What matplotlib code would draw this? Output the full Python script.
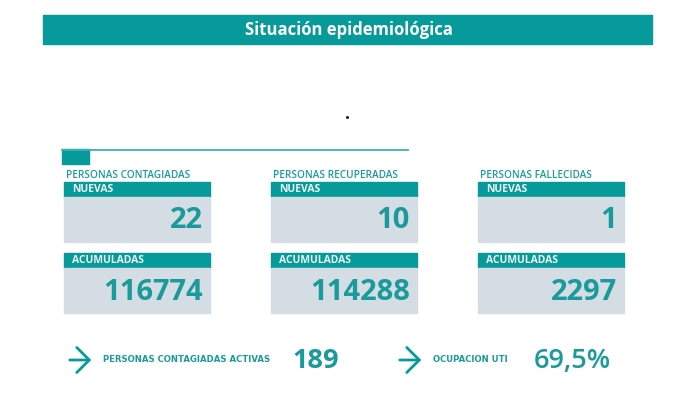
import matplotlib.pyplot as plt
from matplotlib.patches import Rectangle, FancyArrowPatch

# data
title = "Situación epidemiológica"
categorias = ["PERSONAS CONTAGIADAS", "PERSONAS RECUPERADAS", "PERSONAS FALLECIDAS"]
nuevas = [22, 10, 1]
acumuladas = [116774, 114288, 2297]
indicadores = ["PERSONAS CONTAGIADAS ACTIVAS", "OCUPACION UTI"]
indicador_valores = ["189", "69,5%"]

TEAL = "#079a9a"
TEAL_TXT = "#1a9a9a"
GRAY = "#d4dde4"
HEAD_TXT = "#eef3f3"

fig = plt.figure(figsize=(6.86, 4.01), dpi=100)
ax = fig.add_axes([0, 0, 1, 1])
ax.set_xlim(0, 686)
ax.set_ylim(401, 0)
ax.axis("off")

# title bar
ax.add_patch(Rectangle((43, 15), 609, 29, color=TEAL))
ax.text(349, 30, title, color="white", fontsize=12, fontweight="bold",
        family="Open Sans", ha="center", va="center")

ax.plot([347], [117], marker="o", color="#222222", markersize=1.2)

# separator line and square
ax.plot([62, 408], [149.5, 149.5], color="#3fb0b1", lw=1.3)
ax.add_patch(Rectangle((62, 149), 27, 15, color=TEAL))

col_x = [64, 271, 478]
box_w = 146
for i, cat in enumerate(categorias):
    x = col_x[i]
    ax.text(x + 2, 175, cat, color=TEAL_TXT, fontsize=7.2, family="Open Sans",
            fontweight="semibold", ha="left", va="center")
    for (y0, lab, val) in [(182, "NUEVAS", nuevas[i]), (253, "ACUMULADAS", acumuladas[i])]:
        ax.add_patch(Rectangle((x, y0), box_w, 15, color=TEAL))
        ax.add_patch(Rectangle((x, y0 + 15), box_w, 45, color=GRAY))
        ax.text(x + 8, y0 + 7.5, lab, color=HEAD_TXT, fontsize=7.5,
                fontweight="bold", family="Open Sans", ha="left", va="center")
        ax.text(x + box_w - 7, y0 + 39, str(val), color=TEAL_TXT, fontsize=21,
                fontweight="bold", family="Open Sans", ha="right", va="center")

# bottom indicators
arrow_x = [67, 397]
label_x = [103, 433]
val_x = [292, 534]
weights = ["bold", "semibold"]
for i, lab in enumerate(indicadores):
    ax.add_patch(FancyArrowPatch((arrow_x[i], 360), (arrow_x[i] + 27, 360),
                                 arrowstyle="->,head_length=9,head_width=9",
                                 color=TEAL, lw=2, mutation_scale=1))
    ax.text(label_x[i], 360, lab, color=TEAL_TXT, fontsize=6.1, fontweight="bold",
            family="DejaVu Sans", ha="left", va="center")
    ax.text(val_x[i], 361, indicador_valores[i], color=TEAL_TXT, fontsize=19.5,
            fontweight=weights[i], family="Open Sans", ha="left", va="center")

fig.savefig("out.png", dpi=100)
